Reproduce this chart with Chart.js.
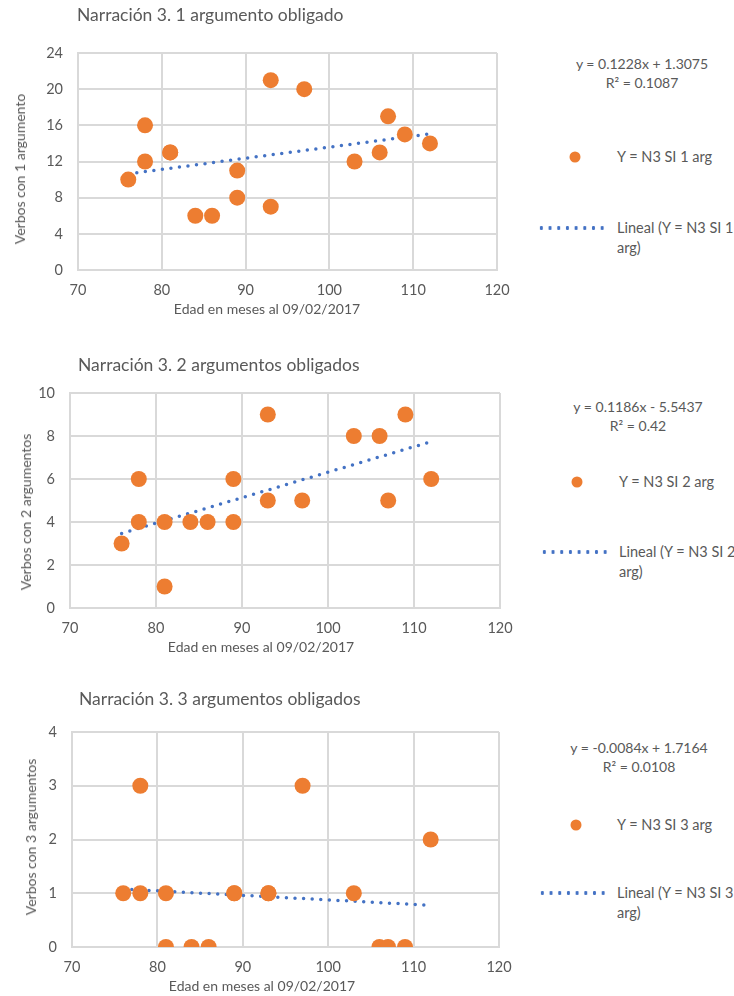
<!DOCTYPE html>
<html>
<head>
<meta charset="utf-8">
<script src="https://cdn.jsdelivr.net/npm/chart.js@4.4.1/dist/chart.umd.min.js"></script>
<style>
  body { margin: 0; background: #fff; width: 734px; height: 996px; position: relative; overflow: hidden;
         font-family: Lato, "Open Sans", sans-serif; color: #595959; }
  canvas { position: absolute; left: 0; }
  .txt { position: absolute; white-space: nowrap; line-height: 1; }
  .mid { transform: translate(-50%, -50%); }
  .rot { transform: translate(-50%, -50%) rotate(-90deg); }
  .left { transform: translateY(-50%); }
  .marker { position: absolute; width: 11px; height: 11px; border-radius: 50%; background: #ED7D31;
            transform: translate(-50%, -50%); }
  .dots { position: absolute; height: 4px; transform: translateY(-50%);
          background: radial-gradient(circle, #4472C4 1.7px, transparent 2px);
          background-size: 8.7px 4px; }
</style>
</head>
<body>
<script>
// Narración 3: verbos por número de argumentos vs edad
const ages = [76, 78, 78, 81, 81, 84, 86, 89, 89, 93, 93, 97, 103, 106, 107, 109, 112];

const verbs1arg = [10, 16, 12, 13, 13, 6, 6, 11, 8, 21, 7, 20, 12, 13, 17, 15, 14];
const verbs2arg = [3, 6, 4, 4, 1, 4, 4, 6, 4, 9, 5, 5, 8, 8, 5, 9, 6];
const verbs3arg = [1, 3, 1, 1, 0, 0, 0, 1, 1, 1, 1, 3, 1, 0, 0, 0, 2];

const titles = ['Narración 3. 1 argumento obligado', 'Narración 3. 2 argumentos obligados', 'Narración 3. 3 argumentos obligados'];
const yTitles = ['Verbos con 1  argumento', 'Verbos con 2  argumentos', 'Verbos con 3  argumentos'];
const xTitle = 'Edad en meses al 09/02/2017';
const seriesNames = ['Y = N3 SI 1 arg', 'Y = N3 SI 2 arg', 'Y = N3 SI 3 arg'];
const trendNames = [['Lineal (Y = N3 SI 1', 'arg)'], ['Lineal (Y = N3 SI 2', 'arg)'], ['Lineal (Y = N3 SI 3', 'arg)']];
const slopes = [0.1228, 0.1186, -0.0084];
const intercepts = [1.3075, -5.5437, 1.7164];
const equations = ['y = 0.1228x + 1.3075', 'y = 0.1186x - 5.5437', 'y = -0.0084x + 1.7164'];
const r2Labels = ['R² = 0.1087', 'R² = 0.42', 'R² = 0.0108'];
const yMax = [24, 10, 4];
const yStep = [4, 2, 1];
const xMin = 70, xMax = 120, xStep = 10;

const seriesValues = [verbs1arg, verbs2arg, verbs3arg];

// layout of each panel (page pixels)
const panels = [
  { top: 0,   plot: { left: 78, right: 497, top: 53, bottom: 270 },
    titleX: 77, titleY: 15, xTitleX: 267, yTitleX: 20, yTitleY: 169,
    eqX: 642, eqY: 64, markerX: 575, markerY: 157, textX: 617, dotsX: 540, dotsY: 228 },
  { top: 340, plot: { left: 70, right: 500, top: 393, bottom: 608 },
    titleX: 78, titleY: 365, xTitleX: 261, yTitleX: 26, yTitleY: 512,
    eqX: 638, eqY: 407, markerX: 577, markerY: 482, textX: 619, dotsX: 543, dotsY: 552 },
  { top: 680, plot: { left: 72, right: 499, top: 732, bottom: 947 },
    titleX: 79, titleY: 699, xTitleX: 262, yTitleX: 31, yTitleY: 837,
    eqX: 639, eqY: 748, markerX: 576, markerY: 825, textX: 617, dotsX: 541, dotsY: 893 }
];

const TEXT = '#595959';
const GRID = '#D9D9D9';
const ORANGE = '#ED7D31';
const BLUE = '#4472C4';
const FONT = 'Lato, "Open Sans", sans-serif';

function addText(text, x, y, cls, size) {
  const el = document.createElement('div');
  el.className = 'txt ' + cls;
  el.textContent = text;
  el.style.left = x + 'px';
  el.style.top = y + 'px';
  el.style.fontSize = size + 'px';
  document.body.appendChild(el);
  return el;
}

function buildPanel(i) {
  const p = panels[i];
  const canvas = document.createElement('canvas');
  const h = p.plot.bottom - p.top + 50;
  canvas.width = 530;
  canvas.height = h;
  canvas.style.top = p.top + 'px';
  canvas.style.width = '530px';
  canvas.style.height = h + 'px';
  document.body.appendChild(canvas);

  const points = ages.map((a, k) => ({ x: a, y: seriesValues[i][k] }));
  const xs = [Math.min(...ages), Math.max(...ages)];
  const trend = xs.map(x => ({ x: x, y: slopes[i] * x + intercepts[i] }));

  new Chart(canvas.getContext('2d'), {
    type: 'scatter',
    data: {
      datasets: [
        {
          label: seriesNames[i],
          data: points,
          backgroundColor: ORANGE,
          borderColor: ORANGE,
          pointRadius: 8,
          pointBorderWidth: 0
        },
        {
          type: 'line',
          label: trendNames[i].join(' '),
          data: trend,
          borderColor: BLUE,
          borderWidth: 3.5,
          borderDash: [0, 8.6],
          borderCapStyle: 'round',
          pointRadius: 0,
          fill: false
        }
      ]
    },
    options: {
      responsive: false,
      animation: false,
      devicePixelRatio: 1,
      layout: { padding: { left: 0, right: 530 - p.plot.right, top: p.plot.top - p.top, bottom: 0 } },
      plugins: { legend: { display: false }, tooltip: { enabled: false } },
      scales: {
        x: {
          type: 'linear', min: xMin, max: xMax,
          ticks: { stepSize: xStep, color: TEXT, font: { family: FONT, size: 14.5 }, padding: 12 },
          grid: { color: GRID, lineWidth: 2, drawTicks: false },
          border: { color: GRID, width: 2 },
          afterFit: s => { s.height = 50; }
        },
        y: {
          type: 'linear', min: 0, max: yMax[i],
          ticks: { stepSize: yStep[i], color: TEXT, font: { family: FONT, size: 14.5 }, padding: 15 },
          grid: { color: GRID, lineWidth: 2, drawTicks: false },
          border: { color: GRID, width: 2 },
          afterFit: s => { s.width = p.plot.left; }
        }
      }
    }
  });

  addText(titles[i], p.titleX, p.titleY, 'left', 17.5);
  addText(xTitle, p.xTitleX, p.plot.bottom + 39, 'mid', 14);
  addText(yTitles[i], p.yTitleX, p.yTitleY, 'rot', 14);

  addText(equations[i], p.eqX, p.eqY, 'mid', 14);
  addText(r2Labels[i], p.eqX, p.eqY + 19, 'mid', 14);

  const m = document.createElement('div');
  m.className = 'marker';
  m.style.left = p.markerX + 'px';
  m.style.top = p.markerY + 'px';
  document.body.appendChild(m);
  addText(seriesNames[i], p.textX, p.markerY, 'left', 14.5);

  const d = document.createElement('div');
  d.className = 'dots';
  d.style.left = (p.dotsX - 3) + 'px';
  d.style.width = '69px';
  d.style.top = p.dotsY + 'px';
  document.body.appendChild(d);
  addText(trendNames[i][0], p.textX, p.dotsY, 'left', 14.5);
  addText(trendNames[i][1], p.textX, p.dotsY + 20, 'left', 14.5);
}

panels.forEach((p, i) => buildPanel(i));
</script>
</body>
</html>
